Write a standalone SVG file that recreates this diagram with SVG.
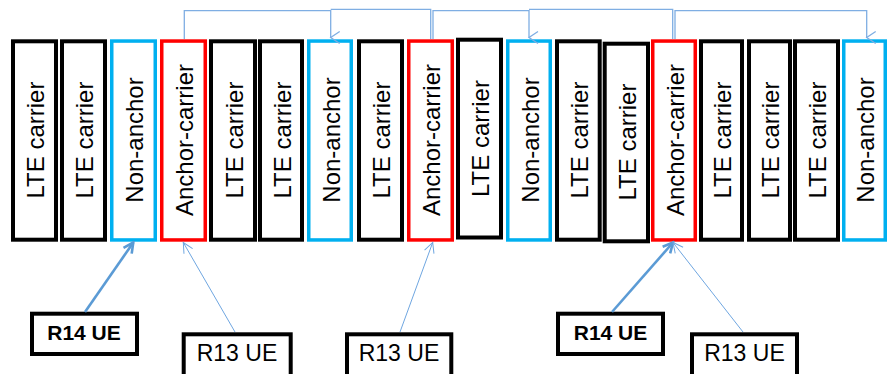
<svg xmlns="http://www.w3.org/2000/svg" width="890" height="374" viewBox="0 0 890 374">
<style>
.lte{fill:#fff;stroke:#000;stroke-width:4}
.na{fill:#fff;stroke:#00B0F0;stroke-width:3.5}
.an{fill:#fff;stroke:#FF0000;stroke-width:3.5}
.lbl{font-family:"Liberation Sans",Arial,sans-serif;font-size:24px;fill:#000;text-anchor:middle}
.ue{fill:#fff;stroke:#000;stroke-width:4}
.ue14{font-family:"Liberation Sans",Arial,sans-serif;font-size:21px;font-weight:bold;fill:#000;text-anchor:middle}
.ue13{font-family:"Liberation Sans",Arial,sans-serif;font-size:23px;fill:#000;text-anchor:middle}
.top{fill:none;stroke:#7FAEE3;stroke-width:1.3}
.thick{fill:none;stroke:#5B9BD5;stroke-width:2.6}
.thin{fill:none;stroke:#6FA6E0;stroke-width:1}
</style>
<defs>
<marker id="aTop" markerUnits="userSpaceOnUse" viewBox="-8 -12 16 14" refX="0" refY="0" markerWidth="16" markerHeight="14" orient="auto-start-reverse">
<path d="M-6,-9 L0,0 L6,-9" fill="none" stroke="#7FAEE3" stroke-width="1.3"/>
</marker>
<marker id="aThick" markerUnits="userSpaceOnUse" viewBox="-12 -8 14 16" refX="0" refY="0" markerWidth="14" markerHeight="16" orient="auto">
<path d="M-10,-5 L0,0 L-10,5" fill="none" stroke="#5B9BD5" stroke-width="2.6"/>
</marker>
<marker id="aThin" markerUnits="userSpaceOnUse" viewBox="-12 -8 14 16" refX="0" refY="0" markerWidth="14" markerHeight="16" orient="auto">
<path d="M-10,-5 L0,0 L-10,5" fill="none" stroke="#6FA6E0" stroke-width="1"/>
</marker>
</defs>
<g id="c1"><rect class="lte" x="13" y="41.3" width="43" height="198.4"/><text class="lbl" transform="translate(44,140) rotate(-90)">LTE carrier</text></g>
<g id="c2"><rect class="lte" x="62" y="41.3" width="43" height="198.4"/><text class="lbl" transform="translate(93,140) rotate(-90)">LTE carrier</text></g>
<g id="c3"><rect class="na" x="111.75" y="41.05" width="43.5" height="198.9"/><text class="lbl" transform="translate(143,140) rotate(-90)">Non-anchor</text></g>
<g id="c4"><rect class="an" x="161.75" y="41.05" width="43.5" height="198.9"/><text class="lbl" transform="translate(193,140) rotate(-90)">Anchor-carrier</text></g>
<g id="c5"><rect class="lte" x="211" y="41.3" width="44" height="198.4"/><text class="lbl" transform="translate(242.5,140) rotate(-90)">LTE carrier</text></g>
<g id="c6"><rect class="lte" x="260" y="41.3" width="42" height="198.4"/><text class="lbl" transform="translate(290.5,140) rotate(-90)">LTE carrier</text></g>
<g id="c7"><rect class="na" x="308.75" y="41.05" width="42.5" height="198.9"/><text class="lbl" transform="translate(339.5,140) rotate(-90)">Non-anchor</text></g>
<g id="c8"><rect class="lte" x="359" y="41.3" width="43" height="198.4"/><text class="lbl" transform="translate(390,140) rotate(-90)">LTE carrier</text></g>
<g id="c9"><rect class="an" x="408.75" y="41.05" width="43.5" height="198.9"/><text class="lbl" transform="translate(440,140) rotate(-90)">Anchor-carrier</text></g>
<g id="c10"><rect class="lte" x="458" y="39.7" width="43" height="197.8"/><text class="lbl" transform="translate(489,138.5) rotate(-90)">LTE carrier</text></g>
<g id="c11"><rect class="na" x="507.75" y="41.05" width="42.5" height="198.9"/><text class="lbl" transform="translate(538.5,140) rotate(-90)">Non-anchor</text></g>
<g id="c12"><rect class="lte" x="557" y="41.3" width="42.7" height="198.4"/><text class="lbl" transform="translate(587.5,140) rotate(-90)">LTE carrier</text></g>
<g id="c13"><rect class="lte" x="604.7" y="43.7" width="43.3" height="197.6"/><text class="lbl" transform="translate(636,142) rotate(-90)">LTE carrier</text></g>
<g id="c14"><rect class="an" x="652.75" y="41.05" width="42.5" height="198.9"/><text class="lbl" transform="translate(683.5,140) rotate(-90)">Anchor-carrier</text></g>
<g id="c15"><rect class="lte" x="701" y="41.3" width="41" height="198.4"/><text class="lbl" transform="translate(731,140) rotate(-90)">LTE carrier</text></g>
<g id="c16"><rect class="lte" x="749" y="41.3" width="41" height="198.4"/><text class="lbl" transform="translate(779,140) rotate(-90)">LTE carrier</text></g>
<g id="c17"><rect class="lte" x="795" y="41.3" width="43" height="198.4"/><text class="lbl" transform="translate(826,140) rotate(-90)">LTE carrier</text></g>
<g id="c18"><rect class="na" x="843.75" y="41.05" width="41.5" height="198.9"/><text class="lbl" transform="translate(874,140) rotate(-90)">Non-anchor</text></g>
<g id="ue1"><rect class="ue" x="32" y="313.7" width="105" height="40.3"/><text class="ue14" x="84" y="340">R14 UE</text></g>
<g id="ue2"><rect class="ue" x="183.7" y="334.3" width="107" height="50"/><text class="ue13" x="237" y="360.7">R13 UE</text></g>
<g id="ue3"><rect class="ue" x="347" y="334.3" width="104.3" height="50"/><text class="ue13" x="399" y="360.7">R13 UE</text></g>
<g id="ue4"><rect class="ue" x="558" y="313.7" width="105" height="40.3"/><text class="ue14" x="610.5" y="340">R14 UE</text></g>
<g id="ue5"><rect class="ue" x="692" y="334.3" width="105" height="50"/><text class="ue13" x="744.5" y="360.7">R13 UE</text></g>
<g id="connectors">
<path class="top" d="M184.3,39 V10.7 H330.7 V37.5" marker-end="url(#aTop)"/>
<path class="top" d="M430.7,39 V9.3 H330.7"/>
<path class="top" d="M433,39 V10.7 H529 V37.5" marker-end="url(#aTop)"/>
<path class="top" d="M672.7,39 V9.3 H529"/>
<path class="top" d="M675,39 V10.7 H866.7 V37.5" marker-end="url(#aTop)"/>
<path class="thick" d="M85,312 L133.3,242.5" marker-end="url(#aThick)"/>
<path class="thin" d="M235,332 L183.3,242.5" marker-end="url(#aThin)"/>
<path class="thin" d="M400,332 L432.7,242.5" marker-end="url(#aThin)"/>
<path class="thick" d="M612,312 L673,242.5" marker-end="url(#aThick)"/>
<path class="thin" d="M743,332 L673,242.5" marker-end="url(#aThin)"/>
</g>
</svg>
